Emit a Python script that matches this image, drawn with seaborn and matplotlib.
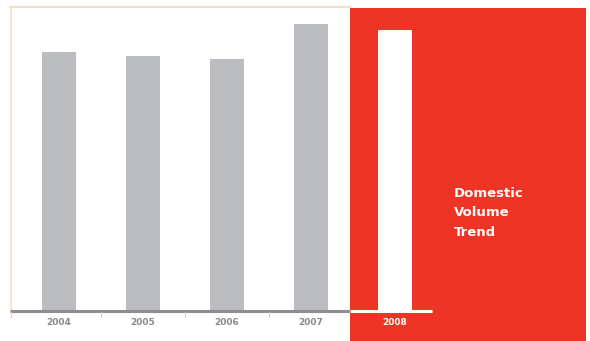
import matplotlib
matplotlib.use("Agg")
import matplotlib.pyplot as plt
import seaborn as sns
import pandas as pd
from matplotlib.patches import Rectangle

years = ["2004", "2005", "2006", "2007", "2008"]
volume = [259, 255, 252, 287, 281]
bar_colors = ["#BCBDC1", "#BCBDC1", "#BCBDC1", "#BCBDC1", "#FFFFFF"]
title_lines = ["Domestic", "Volume", "Trend"]

RED = "#EE3424"
W, H = 590, 341

sns.set_style("white")
plt.rcParams["font.family"] = ["DejaVu Sans"]

fig = plt.figure(figsize=(W / 100, H / 100), dpi=100)
fig.patch.set_facecolor("white")

# axes spanning pixel x 10..586, y 7..311 (baseline)
L, R, T, B = 10, 586, 7, 311
ax = fig.add_axes([L / W, (H - B) / H, (R - L) / W, (B - T) / H])
ax.set_facecolor("none")

x0, step = 59, 84
def px2x(px):
    return (px - x0) / step

df = pd.DataFrame({"year": years, "volume": volume})

# red panel (behind bars)
ax.add_patch(Rectangle((px2x(350), -(H - B)), px2x(R) - px2x(350), (B - 8) + (H - B),
                       facecolor=RED, edgecolor="none", clip_on=False, zorder=0))

sns.barplot(data=df, x="year", y="volume", hue="year", palette=bar_colors,
            width=34 / 84, saturation=1, legend=False, ax=ax, zorder=2,
            linewidth=0, edgecolor="none")

ax.set_xlim(px2x(L), px2x(R))
ax.set_ylim(0, B - T)
for s in ax.spines.values():
    s.set_visible(False)
ax.set_xlabel("")
ax.set_ylabel("")
ax.set_yticks([])
ax.tick_params(axis="x", length=0, pad=5)
ax.set_xticks(range(len(years)))
ax.set_xticklabels(years, fontsize=6.5, fontweight="semibold")
for i, lab in enumerate(ax.get_xticklabels()):
    if i == len(years) - 1:
        lab.set_color("white")
        lab.set_fontweight("bold")
    else:
        lab.set_color("#8A8A8E")

# peach frame (top and left)
ax.plot([px2x(L), px2x(350)], [B - T, B - T], color="#FADBC8", lw=1.5, clip_on=False, zorder=1)
ax.plot([px2x(L + 0.5), px2x(L + 0.5)], [0, B - T], color="#FADBC8", lw=1.2, clip_on=False, zorder=1)

# baseline: gray then white
ax.plot([px2x(L), px2x(350)], [0, 0], color="#8E8E92", lw=2.2, clip_on=False, zorder=3,
        solid_capstyle="butt")
ax.plot([px2x(350), px2x(432)], [0, 0], color="white", lw=2.2, clip_on=False, zorder=3,
        solid_capstyle="butt")

# separator ticks below baseline
for i in range(len(years) - 2):
    xs = i + 0.5
    ax.plot([xs, xs], [-1, -6], color="#CFCFD1", lw=0.8, clip_on=False, zorder=3)
ax.plot([px2x(L + 0.5), px2x(L + 0.5)], [-1, -6], color="#F8C8B0", lw=0.8, clip_on=False, zorder=3)

# title text
for k, line in enumerate(title_lines):
    fig.text(454 / W, 1 - (193 + 20 * k) / H, line, color="white", fontsize=9.5,
             fontweight="bold", ha="left", va="center")

fig.savefig("out.png", dpi=100, facecolor="white")
